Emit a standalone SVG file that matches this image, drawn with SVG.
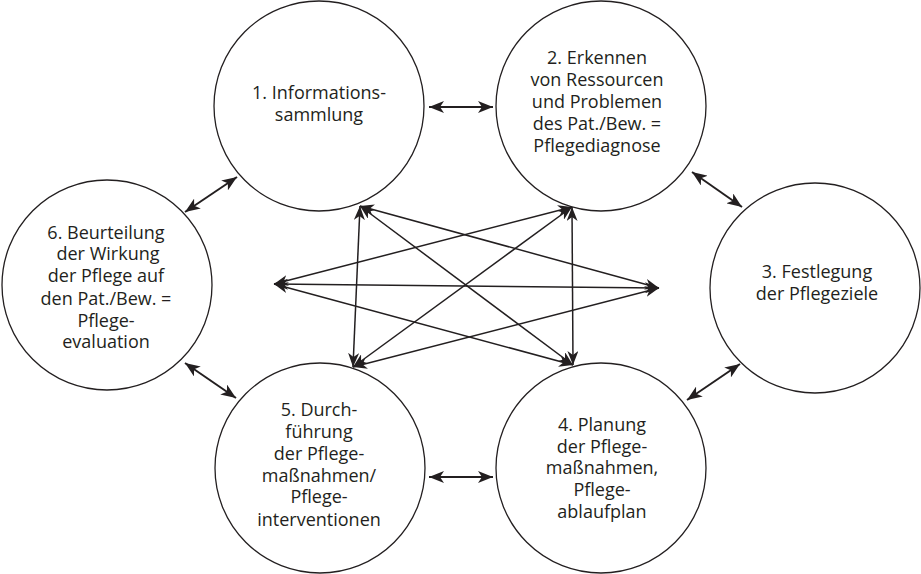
<svg xmlns="http://www.w3.org/2000/svg" width="921" height="574" viewBox="0 0 921 574">
<style>
.node circle{fill:#fff;stroke:#231f20;stroke-width:1.3}
.node text{font-family:"Open Sans","Noto Sans","Liberation Sans",sans-serif;font-size:18px;fill:#231f20;text-anchor:middle}
.nb{stroke:#231f20;stroke-width:2;fill:none;marker-start:url(#ah);marker-end:url(#ah)}
.st{stroke:#231f20;stroke-width:1.5;fill:none;marker-start:url(#ah2);marker-end:url(#ah2)}
</style>
<defs>
<marker id="ah" viewBox="0 0 15 12" refX="15" refY="6" markerWidth="15" markerHeight="12" markerUnits="userSpaceOnUse" orient="auto-start-reverse">
<path d="M15 6 L0 0 L4 6 L0 12 Z" fill="#231f20"/>
</marker>
<marker id="ah2" viewBox="0 0 14 11" refX="14" refY="5.5" markerWidth="14" markerHeight="11" markerUnits="userSpaceOnUse" orient="auto-start-reverse">
<path d="M14 5.5 L0 0 L4 5.5 L0 11 Z" fill="#231f20"/>
</marker>
</defs>
<rect width="921" height="574" fill="#fff"/>
<g id="connectors">
<line class="nb" x1="429" y1="107" x2="493" y2="107"/>
<line class="nb" x1="692" y1="172" x2="742" y2="207"/>
<line class="nb" x1="740" y1="364" x2="687" y2="400"/>
<line class="nb" x1="493" y1="477" x2="429" y2="477"/>
<line class="nb" x1="236" y1="398" x2="185" y2="363"/>
<line class="nb" x1="185" y1="212" x2="237" y2="177"/>
<line class="st" x1="360" y1="206" x2="353" y2="367"/>
<line class="st" x1="360" y1="206" x2="659" y2="288"/>
<line class="st" x1="360" y1="206" x2="573" y2="365"/>
<line class="st" x1="572" y1="207" x2="274" y2="284"/>
<line class="st" x1="572" y1="207" x2="353" y2="367"/>
<line class="st" x1="572" y1="207" x2="573" y2="365"/>
<line class="st" x1="274" y1="284" x2="659" y2="288"/>
<line class="st" x1="274" y1="284" x2="573" y2="365"/>
<line class="st" x1="353" y1="367" x2="659" y2="288"/>
</g>
<g id="n1" class="node">
<circle cx="319" cy="106" r="105"/>
<text x="319" y="99">1. Informations-</text>
<text x="319" y="121">sammlung</text>
</g>
<g id="n2" class="node">
<circle cx="601" cy="106" r="105"/>
<text x="597" y="64">2. Erkennen</text>
<text x="597" y="86">von Ressourcen</text>
<text x="597" y="108">und Problemen</text>
<text x="597" y="130">des Pat./Bew. =</text>
<text x="597" y="152">Pflegediagnose</text>
</g>
<g id="n3" class="node">
<circle cx="815" cy="288" r="105"/>
<text x="817" y="278">3. Festlegung</text>
<text x="817" y="300">der Pflegeziele</text>
</g>
<g id="n4" class="node">
<circle cx="601" cy="468" r="105"/>
<text x="602" y="431">4. Planung</text>
<text x="602" y="453">der Pflege-</text>
<text x="602" y="474">maßnahmen,</text>
<text x="602" y="496">Pflege-</text>
<text x="602" y="518">ablaufplan</text>
</g>
<g id="n5" class="node">
<circle cx="320" cy="468" r="105"/>
<text x="319" y="416">5. Durch-</text>
<text x="319" y="438">führung</text>
<text x="319" y="460">der Pflege-</text>
<text x="319" y="482">maßnahmen/</text>
<text x="319" y="503">Pflege-</text>
<text x="319" y="526">interventionen</text>
</g>
<g id="n6" class="node">
<circle cx="107" cy="285" r="105"/>
<text x="106" y="239">6. Beurteilung</text>
<text x="108" y="260">der Wirkung</text>
<text x="106" y="282">der Pflege auf</text>
<text x="106" y="305">den Pat./Bew. =</text>
<text x="106" y="327">Pflege-</text>
<text x="106" y="348">evaluation</text>
</g>
</svg>
